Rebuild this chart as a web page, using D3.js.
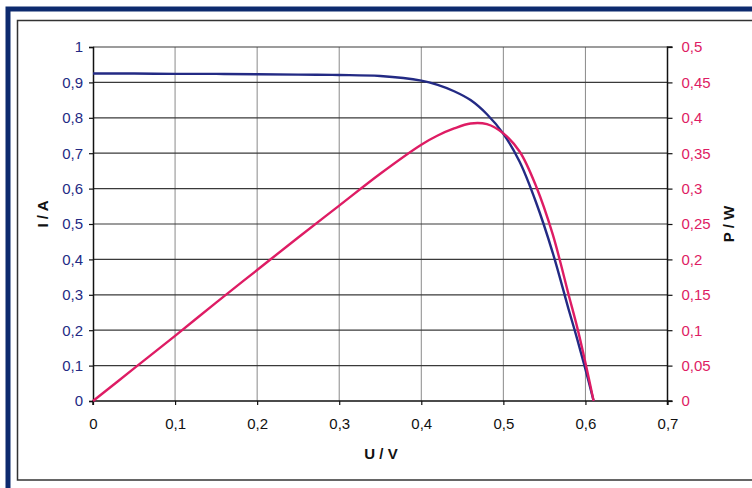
<!DOCTYPE html>
<html>
<head>
<meta charset="utf-8">
<script src="https://cdn.jsdelivr.net/npm/d3@7"></script>
<style>
  body { margin: 0; background: #fff; }
  svg { display: block; font-family: "Liberation Sans", Arial, sans-serif; }
</style>
</head>
<body>
<svg id="chart" width="752" height="488"></svg>
<script>
// voltage U / V
const voltage = [0, 0.05, 0.1, 0.15, 0.2, 0.25, 0.3, 0.35, 0.4, 0.42, 0.44, 0.46, 0.48, 0.5, 0.52, 0.54, 0.56, 0.58, 0.59, 0.6, 0.61];
// current I / A (left axis)
const current = [0.925, 0.925, 0.924, 0.924, 0.923, 0.922, 0.921, 0.918, 0.905, 0.893, 0.875, 0.85, 0.81, 0.755, 0.675, 0.56, 0.42, 0.255, 0.175, 0.09, 0];
// power P / W (right axis)
const power = [0, 0.046, 0.092, 0.139, 0.185, 0.231, 0.276, 0.321, 0.362, 0.375, 0.385, 0.392, 0.391, 0.378, 0.352, 0.303, 0.236, 0.148, 0.104, 0.054, 0];

const xTicks = [0, 0.1, 0.2, 0.3, 0.4, 0.5, 0.6, 0.7];
const iTicks = [0, 0.1, 0.2, 0.3, 0.4, 0.5, 0.6, 0.7, 0.8, 0.9, 1];
const pTicks = [0, 0.05, 0.1, 0.15, 0.2, 0.25, 0.3, 0.35, 0.4, 0.45, 0.5];

const navy = "#232a84";
const pink = "#de1c64";
const fmt = d => String(d).replace(".", ",");

const svg = d3.select("#chart");

// frames
svg.append("rect").attr("x", 8).attr("y", 9).attr("width", 760).attr("height", 490)
  .attr("fill", "none").attr("stroke", "#0d2a6e").attr("stroke-width", 5);
svg.append("rect").attr("x", 17.5).attr("y", 20.5).attr("width", 750).attr("height", 459.5)
  .attr("fill", "none").attr("stroke", "#333").attr("stroke-width", 1.5);

const margin = {top: 47, right: 85, bottom: 87, left: 93};
const width = 667.5 - margin.left;
const height = 401 - margin.top;

const x = d3.scaleLinear().domain([0, 0.7]).range([0, width]);
const yI = d3.scaleLinear().domain([0, 1]).range([height, 0]);
const yP = d3.scaleLinear().domain([0, 0.5]).range([height, 0]);

const g = svg.append("g").attr("transform", `translate(${margin.left},${margin.top})`);

// grid
g.append("g").selectAll("line").data(xTicks.slice(1, -1)).enter().append("line")
  .attr("x1", d => x(d)).attr("x2", d => x(d)).attr("y1", 0).attr("y2", height)
  .attr("stroke", "#8a8a8a").attr("stroke-width", 1);
g.append("g").selectAll("line").data(iTicks.slice(1)).enter().append("line")
  .attr("x1", 0).attr("x2", width).attr("y1", d => yI(d)).attr("y2", d => yI(d))
  .attr("stroke", "#3a3a3a").attr("stroke-width", 1.2);

// axes
const axL = g.append("g").call(d3.axisLeft(yI).tickValues(iTicks).tickFormat(fmt).tickSize(4).tickPadding(6));
const axR = g.append("g").attr("transform", `translate(${width},0)`)
  .call(d3.axisRight(yP).tickValues(pTicks).tickFormat(fmt).tickSize(5).tickPadding(9));
const axB = g.append("g").attr("transform", `translate(0,${height})`)
  .call(d3.axisBottom(x).tickValues(xTicks).tickFormat(fmt).tickSize(4).tickPadding(13));

[axL, axR, axB].forEach(a => {
  a.select(".domain").attr("stroke", "#111").attr("stroke-width", 1.5);
  a.selectAll(".tick line").attr("stroke", "#111").attr("stroke-width", 1.2);
  a.selectAll("text").attr("font-size", 15).attr("font-family", "Liberation Sans, Arial, sans-serif");
});
axL.selectAll("text").attr("fill", navy);
axR.selectAll("text").attr("fill", pink);
axB.selectAll("text").attr("fill", "#111");
axR.select(".domain").attr("d", `M5,0H0V${height}H5`);
axB.select(".domain").attr("d", `M0,4V0H${width}V4`);

// axis titles
svg.append("text").attr("transform", "translate(48,214) rotate(-90)")
  .attr("text-anchor", "middle").attr("font-size", 15).attr("font-weight", "bold").attr("fill", "#111").text("I / A");
svg.append("text").attr("transform", "translate(734,224) rotate(-90)")
  .attr("text-anchor", "middle").attr("font-size", 15).attr("font-weight", "bold").attr("fill", "#111").text("P / W");
svg.append("text").attr("x", 381).attr("y", 459)
  .attr("text-anchor", "middle").attr("font-size", 15).attr("font-weight", "bold").attr("fill", "#111").text("U / V");

// curves
const iLine = d3.line().x((d, i) => x(voltage[i])).y(d => yI(d)).curve(d3.curveCatmullRom.alpha(0.5));
const pLine = d3.line().x((d, i) => x(voltage[i])).y(d => yP(d)).curve(d3.curveCatmullRom.alpha(0.5));

g.append("path").datum(current).attr("d", iLine)
  .attr("fill", "none").attr("stroke", navy).attr("stroke-width", 2.4);
g.append("path").datum(power).attr("d", pLine)
  .attr("fill", "none").attr("stroke", pink).attr("stroke-width", 2.4);
</script>
</body>
</html>
